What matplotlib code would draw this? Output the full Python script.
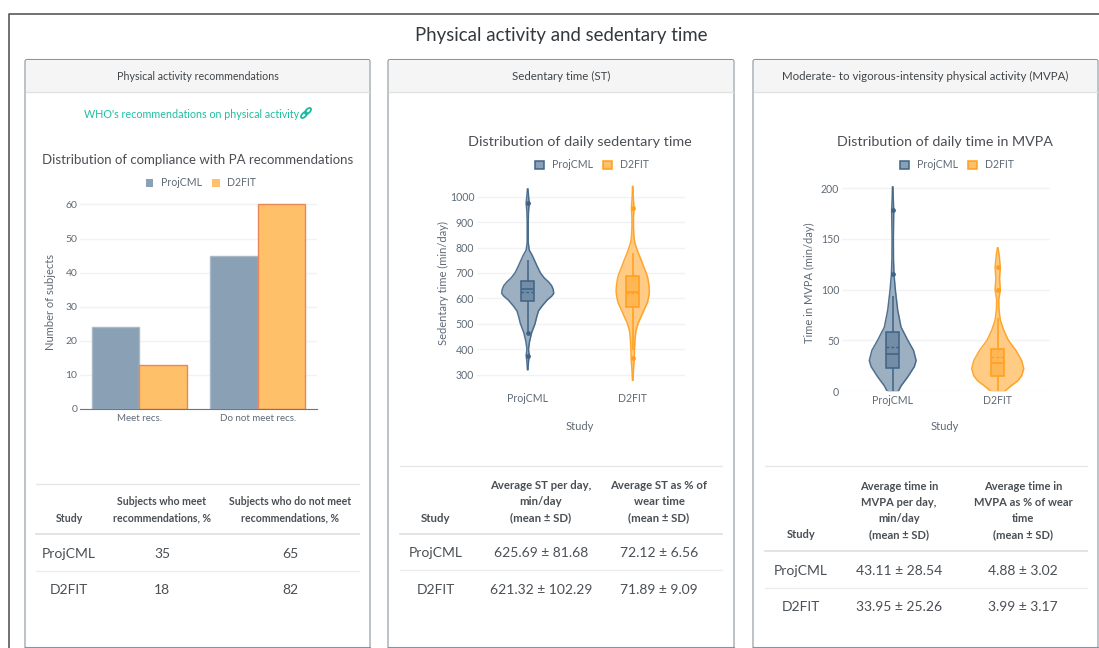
#!/usr/bin/env python3
# -*- coding: utf-8 -*-
"""Physical activity and sedentary time dashboard page."""

import matplotlib
matplotlib.use('Agg')
import matplotlib.pyplot as plt
from matplotlib.patches import FancyBboxPatch, Rectangle, Patch, Ellipse

plt.rcParams['font.family'] = ['Lato', 'DejaVu Sans']

W, H = 1099, 648
BLUE = '#3f6385'
ORANGE = '#ff9f1c'
BLUE_FILL = '#8aa0b4'
ORANGE_FILL = '#ffc06a'
TEXT = '#4a4f55'
TICK = '#5f6a75'
GRID = '#f1f2f4'

studies = ['ProjCML', 'D2FIT']

# bar chart
bar_cats = ['Meet recs.', 'Do not meet recs.']
bar_proj = [24, 45]
bar_d2 = [13, 60]

# sedentary time violins
st_proj_y = [320, 335, 350, 375, 400, 430, 465, 500, 525, 550, 570, 594, 610, 620, 635, 650, 665, 680, 700, 725, 750, 770, 790, 820, 860, 900, 940, 975, 1005, 1030]
st_proj_d = [.01, .02, .03, .06, .03, .07, .15, .28, .34, .41, .55, .75, .93, 1.0, .98, .92, .8, .64, .49, .37, .26, .17, .06, .02, .02, .02, .03, .06, .03, .01]
st_d2_y = [278, 320, 365, 400, 440, 470, 500, 530, 560, 585, 610, 630, 655, 680, 700, 725, 750, 775, 800, 820, 840, 880, 920, 955, 1000, 1040]
st_d2_d = [.01, .03, .06, .07, .09, .12, .2, .33, .46, .57, .62, .64, .62, .58, .52, .42, .33, .23, .14, .08, .05, .03, .03, .05, .02, .01]
st_box = {'ProjCML': (590, 635, 670, 625, 465, 750), 'D2FIT': (565, 625, 690, 621, 395, 780)}
st_out = {'ProjCML': [375, 465, 975], 'D2FIT': [365, 955]}

# MVPA violins
mv_proj_y = [0, 5, 14, 24, 30, 40, 50, 63, 80, 100, 115, 130, 150, 178, 190, 201]
mv_proj_d = [.22, .32, .58, .83, .9, .8, .58, .32, .19, .1, .05, .03, .025, .04, .02, .01]
mv_d2_y = [0, 5, 10, 15, 22, 30, 40, 50, 60, 70, 80, 90, 100, 111, 122, 130, 135, 141]
mv_d2_d = [.28, .51, .77, .92, 1.0, .92, .7, .41, .23, .1, .05, .04, .1, .07, .1, .07, .05, .01]
mv_box = {'ProjCML': (23, 36, 58, 43, 0, 94), 'D2FIT': (15, 28, 41, 34, 0, 72)}
mv_out = {'ProjCML': [115, 178], 'D2FIT': [100, 122]}

# tables
t1_head = ['Study', 'Subjects who meet\nrecommendations, %', 'Subjects who do not meet\nrecommendations, %']
t1_rows = [['ProjCML', '35', '65'], ['D2FIT', '18', '82']]
t2_head = ['Study', 'Average ST per day,\nmin/day\n(mean ± SD)', 'Average ST as % of\nwear time\n(mean ± SD)']
t2_rows = [['ProjCML', '625.69 ± 81.68', '72.12 ± 6.56'], ['D2FIT', '621.32 ± 102.29', '71.89 ± 9.09']]
t3_head = ['Study', 'Average time in\nMVPA per day,\nmin/day\n(mean ± SD)', 'Average time in\nMVPA as % of wear\ntime\n(mean ± SD)']
t3_rows = [['ProjCML', '43.11 ± 28.54', '4.88 ± 3.02'], ['D2FIT', '33.95 ± 25.26', '3.99 ± 3.17']]

fig = plt.figure(figsize=(W / 100, H / 100), dpi=100, facecolor='white')
page = fig.add_axes([0, 0, 1, 1])
page.set_xlim(0, W)
page.set_ylim(H, 0)
page.axis('off')


def px_axes(left, right, top, bottom):
    ax = fig.add_axes([left / W, 1 - bottom / H, (right - left) / W, (bottom - top) / H])
    ax.patch.set_alpha(0)
    for side in ['top', 'right', 'left', 'bottom']:
        ax.spines[side].set_visible(False)
    ax.tick_params(length=0, labelsize=7.6, labelcolor=TICK)
    ax.grid(True, axis='y', color=GRID, linewidth=1)
    ax.set_axisbelow(True)
    return ax


def panel(left, right, header, size):
    page.add_patch(FancyBboxPatch((left, 59.5), right - left, 600, boxstyle='round,pad=0,rounding_size=2',
                                  fc='white', ec='#8a949c', lw=0.8))
    page.add_patch(Rectangle((left + 1, 60), right - left - 2, 32, fc='#f5f5f5', ec='none'))
    page.plot([left + 1, right - 1], [92, 92], color='#e2e2e2', lw=1)
    page.plot([left, right], [647, 647], color='#8a949c', lw=0.8)
    page.add_patch(Rectangle((left - 2, 648), right - left + 4, 20, fc='white', ec='none', zorder=3))
    page.text((left + right) / 2, 76, header, ha='center', va='center', fontsize=size, color='#3f4448')


def table(left, right, top, head_line, row_line, row_ys, col_xs, head, rows, size):
    page.plot([left, right], [top, top], color='#e6e6e6', lw=1)
    page.plot([left, right], [head_line, head_line], color='#dedede', lw=1.2)
    page.plot([left, right], [row_line, row_line], color='#ececec', lw=1)
    for x, label in zip(col_xs, head):
        page.text(x, head_line - 10.5, label, ha='center', va='bottom', fontsize=size, fontweight='bold',
                  color='#4a4f55', linespacing=1.58)
    for y, row in zip(row_ys, rows):
        for x, val in zip(col_xs, row):
            page.text(x, y + 1, val, ha='center', va='center', fontsize=10, color=TEXT)


def legend(ax, x, y, edge):
    handles = [Patch(fc=BLUE_FILL, ec=BLUE if edge else BLUE_FILL, lw=1.1 if edge else 0, label=studies[0]),
               Patch(fc=ORANGE_FILL, ec=ORANGE if edge else ORANGE_FILL, lw=1.1 if edge else 0, label=studies[1])]
    size = 0.85 if edge else 0.72
    ax.legend(handles=handles, loc='center', bbox_to_anchor=(x, y), bbox_transform=page.transData, ncol=2,
              frameon=False, fontsize=7.6, labelcolor=TICK, handlelength=size, handleheight=size,
              columnspacing=1.0, handletextpad=0.7, borderpad=0)


def violin(ax, pos, ys, dens, box, outliers, color, fill):
    half = 0.248
    left = [pos - d * half for d in dens]
    right = [pos + d * half for d in dens]
    ax.fill_betweenx(ys, left, right, color=fill, lw=0, zorder=2)
    ax.plot(left, ys, color=color, lw=1.1, zorder=3, alpha=0.9)
    ax.plot(right, ys, color=color, lw=1.1, zorder=3, alpha=0.9)
    q1, med, q3, mean, low, high = box
    w = 0.064
    ax.vlines(pos, low, q1, color=color, lw=1.1, zorder=3)
    ax.vlines(pos, q3, high, color=color, lw=1.1, zorder=3)
    ax.add_patch(Rectangle((pos - w, q1), 2 * w, q3 - q1, fc=color, alpha=0.45, ec='none', zorder=4))
    ax.add_patch(Rectangle((pos - w, q1), 2 * w, q3 - q1, fc='none', ec=color, lw=1.1, zorder=5))
    ax.hlines(med, pos - w, pos + w, color=color, lw=1.1, zorder=5)
    ax.hlines(mean, pos - w, pos + w, color=color, lw=1.0, linestyles=(0, (2, 1.5)), zorder=5)
    ax.scatter([pos] * len(outliers), outliers, s=12, color=color, lw=0, zorder=5)


def violin_chart(left, right, top, bottom, xlim, ylim, yticks, data, boxes, outs, label_pad):
    ax = px_axes(left, right, top, bottom)
    ax.set_xlim(*xlim)
    ax.set_ylim(*ylim)
    ax.set_yticks(yticks)
    ax.set_xticks([0, 1])
    ax.set_xticklabels(studies)
    ax.tick_params(axis='x', pad=label_pad)
    ax.tick_params(axis='y', pad=2)
    ax.grid(False, axis='x')
    violin(ax, 0, data[0], data[1], boxes['ProjCML'], outs['ProjCML'], BLUE, '#9db0c1')
    violin(ax, 1, data[2], data[3], boxes['D2FIT'], outs['D2FIT'], ORANGE, '#ffcb85')
    return ax


# outer frame and page title
page.plot([9, 9, W], [H, 14, 14], color='#555a5e', lw=1.2)
page.text(561, 35, 'Physical activity and sedentary time', ha='center', va='center', fontsize=13.4, color='#33383c')

panel(25, 370, 'Physical activity recommendations', 7.7)
panel(388, 734, 'Sedentary time (ST)', 8.3)
panel(753, 1098, 'Moderate- to vigorous-intensity physical activity (MVPA)', 8.25)

# link line
page.text(191.5, 114, "WHO's recommendations on physical activity", ha='center', va='center', fontsize=7.75, color='#1fbf9f')
for ex, ey in [(304, 115), (308, 111)]:
    page.add_patch(Ellipse((ex, ey), 7.5, 4, angle=-45, fc='none', ec='#18bc9c', lw=1.3))

# chart 1: bars
page.text(198, 160, 'Distribution of compliance with PA recommendations', ha='center', va='center', fontsize=9.55, color=TEXT)
ax1 = px_axes(80, 317, 200, 409)
ax1.set_xlim(-0.5, 1.5)
ax1.set_ylim(0, 61.3)
ax1.set_yticks([0, 10, 20, 30, 40, 50, 60])
ax1.set_xticks([0, 1])
ax1.set_xticklabels(bar_cats)
ax1.tick_params(axis='x', pad=3.5, labelsize=7)
ax1.tick_params(axis='y', pad=2, labelsize=7.5)
ax1.spines['bottom'].set_visible(True)
ax1.spines['bottom'].set_color('#6b7782')
ax1.bar([i - 0.2 for i in range(2)], bar_proj, 0.4, color=BLUE_FILL, edgecolor='#a9b9c7', linewidth=1, zorder=2)
ax1.bar([i + 0.2 for i in range(2)], bar_d2, 0.4, color=ORANGE_FILL, edgecolor='#e8875a', linewidth=1, zorder=2)
page.text(50, 302, 'Number of subjects', rotation=90, ha='center', va='center', fontsize=8, color=TICK)
legend(ax1, 201, 183, False)

# chart 2: sedentary time
page.text(580, 142, 'Distribution of daily sedentary time', ha='center', va='center', fontsize=10.4, color=TEXT)
ax2 = violin_chart(477, 685, 183, 381, (-0.483, 1.498), (275, 1054), [300, 400, 500, 600, 700, 800, 900, 1000],
                   (st_proj_y, st_proj_d, st_d2_y, st_d2_d), st_box, st_out, 9)
page.text(443, 283, 'Sedentary time (min/day)', rotation=90, ha='center', va='center', fontsize=8, color=TICK)
page.text(580, 427, 'Study', ha='center', va='center', fontsize=8, color=TICK)
legend(ax2, 592, 165, True)

# chart 3: MVPA
page.text(945, 142, 'Distribution of daily time in MVPA', ha='center', va='center', fontsize=10.25, color=TEXT)
ax3 = violin_chart(842, 1050, 183, 391, (-0.483, 1.498), (0, 205), [0, 50, 100, 150, 200],
                   (mv_proj_y, mv_proj_d, mv_d2_y, mv_d2_d), mv_box, mv_out, 3)
page.text(809, 283, 'Time in MVPA (min/day)', rotation=90, ha='center', va='center', fontsize=8, color=TICK)
page.text(945, 427, 'Study', ha='center', va='center', fontsize=8, color=TICK)
legend(ax3, 957, 165, True)

# tables
table(36, 359, 484, 534, 571, [553, 589], [69, 162, 290], t1_head, t1_rows, 7.6)
table(400, 722, 466, 534, 570, [552, 589], [436, 541, 659], t2_head, t2_rows, 8.2)
table(765, 1087, 466, 551, 588, [570, 606], [801, 899, 1023], t3_head, t3_rows, 8)

fig.savefig('out.png', dpi=100)
